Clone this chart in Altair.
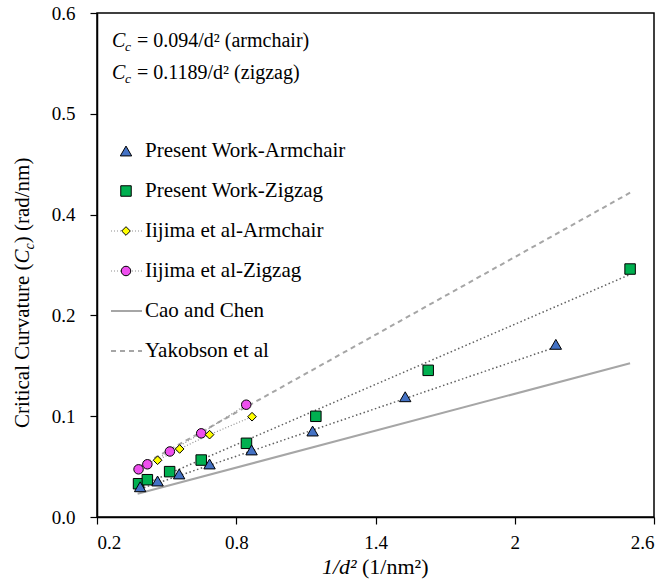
import altair as alt
import pandas as pd

# ---------------- data ----------------
pw_zig_x = [0.379, 0.417, 0.513, 0.649, 0.844, 1.143, 1.627, 2.497]
pw_zig_y = [0.033, 0.037, 0.045, 0.0565, 0.0731, 0.0999, 0.1455, 0.246]
pw_arm_x = [0.386, 0.461, 0.554, 0.685, 0.866, 1.129, 1.528, 2.177]
pw_arm_y = [0.030, 0.0357, 0.0427, 0.0526, 0.0665, 0.0853, 0.1193, 0.1713]
ij_zig_x = [0.379, 0.417, 0.514, 0.649, 0.843]
ij_zig_y = [0.0473, 0.0523, 0.065, 0.083, 0.1114]
ij_arm_x = [0.461, 0.556, 0.685, 0.868]
ij_arm_y = [0.0563, 0.0675, 0.0817, 0.0995]
fit_arm_x = [0.386, 2.153]
fit_arm_y = [0.0278, 0.1667]
fit_zig_x = [0.379, 2.497]
fit_zig_y = [0.030, 0.2406]
cao_x = [0.375, 2.497]
cao_y = [0.0231, 0.1525]
yak_x = [0.379, 2.497]
yak_y = [0.0496, 0.3217]

x_ticks = [0.2, 0.8, 1.4, 2.0, 2.6]
y_ticks = [0.0, 0.1, 0.2, 0.3, 0.4, 0.5]
y_tick_labels = ["0.0", "0.1", "0.2", "0.4", "0.5", "0.6"]

legend_names = ["Present Work-Armchair", "Present Work-Zigzag", "Iijima et al-Armchair",
                "Iijima et al-Zigzag", "Cao and Chen", "Yakobson et al"]

FONT = "Liberation Serif"
W, H = 557, 504
C_TRI = "#4472C4"
C_SQ = "#00B050"
C_DIA = "#FFFF00"
C_CIR = "#EE4FEE"
C_GREY = "#A6A6A6"
C_DOT = "#606060"

def df(xs, ys):
    return pd.DataFrame({"x": xs, "y": ys})

ylab_expr = ""
for v, lab in zip(y_ticks, y_tick_labels):
    ylab_expr += f"abs(datum.value - {v}) < 0.001 ? '{lab}' : "
ylab_expr += "''"

xsc = alt.Scale(domain=[0.2, 2.6], nice=False, zero=False)
ysc = alt.Scale(domain=[0, 0.5], nice=False, zero=False)
X = alt.X("x:Q", scale=xsc, axis=alt.Axis(
    values=x_ticks, labelExpr="datum.value == 2 ? '2' : format(datum.value, '.1f')",
    title=None, grid=False, domainColor="black", tickColor="black", tickSize=7,
    labelFont=FONT, labelFontSize=19, labelColor="black", labelPadding=9,
    domainWidth=1.5, tickWidth=1.2))
Y = alt.Y("y:Q", scale=ysc, axis=alt.Axis(
    values=y_ticks, labelExpr=ylab_expr, title=None, grid=False,
    domainColor="black", tickColor="black", tickSize=7,
    labelFont=FONT, labelFontSize=19, labelColor="black", labelPadding=15,
    domainWidth=1.5, tickWidth=1.2))

layers = []
# lines
layers.append(alt.Chart(df(cao_x, cao_y)).mark_line(color=C_GREY, strokeWidth=2).encode(x=X, y=Y))
layers.append(alt.Chart(df(yak_x, yak_y)).mark_line(color=C_GREY, strokeWidth=2, strokeDash=[5, 4]).encode(x=X, y=Y))
layers.append(alt.Chart(df(fit_zig_x, fit_zig_y)).mark_line(color=C_DOT, strokeWidth=1.5, strokeDash=[1.5, 2.5]).encode(x=X, y=Y))
layers.append(alt.Chart(df(fit_arm_x, fit_arm_y)).mark_line(color=C_DOT, strokeWidth=1.5, strokeDash=[1.5, 2.5]).encode(x=X, y=Y))
layers.append(alt.Chart(df(ij_zig_x, ij_zig_y)).mark_line(color="#909090", strokeWidth=1.2, strokeDash=[1, 2]).encode(x=X, y=Y))
layers.append(alt.Chart(df(ij_arm_x, ij_arm_y)).mark_line(color="#909090", strokeWidth=1.2, strokeDash=[1, 2]).encode(x=X, y=Y))

# points
def pmark(shape, fill, size):
    return dict(shape=shape, filled=True, fill=fill, stroke="black", strokeWidth=1,
                size=size, opacity=1, fillOpacity=1)

layers.append(alt.Chart(df(ij_zig_x, ij_zig_y)).mark_point(**pmark("circle", C_CIR, 90)).encode(x=X, y=Y))
layers.append(alt.Chart(df(ij_arm_x, ij_arm_y)).mark_point(**pmark("diamond", C_DIA, 75)).encode(x=X, y=Y))
layers.append(alt.Chart(df(pw_zig_x, pw_zig_y)).mark_point(**pmark("square", C_SQ, 110)).encode(x=X, y=Y))
layers.append(alt.Chart(df(pw_arm_x, pw_arm_y)).mark_point(**pmark("triangle-up", C_TRI, 130)).encode(x=X, y=Y))

one = pd.DataFrame({"k": [0]})

# legend (custom)
leg_sym = [("triangle-up", C_TRI, 130, None), ("square", C_SQ, 110, None),
           ("diamond", C_DIA, 75, "dot"), ("circle", C_CIR, 90, "dot"),
           (None, None, 0, "solid"), (None, None, 0, "dash")]
for i, (name, (shape, fill, size, ln)) in enumerate(zip(legend_names, leg_sym)):
    yy = 151 + 40 * i
    if ln == "dot":
        layers.append(alt.Chart(one).mark_rule(color="#909090", strokeWidth=1.2, strokeDash=[1, 2]).encode(
            x=alt.value(111 - 97), x2=alt.value(142 - 97), y=alt.value(yy - 13)))
    elif ln == "solid":
        layers.append(alt.Chart(one).mark_rule(color=C_GREY, strokeWidth=2).encode(
            x=alt.value(111 - 97), x2=alt.value(142 - 97), y=alt.value(yy - 13)))
    elif ln == "dash":
        layers.append(alt.Chart(one).mark_rule(color=C_GREY, strokeWidth=2, strokeDash=[5, 4]).encode(
            x=alt.value(111 - 97), x2=alt.value(142 - 97), y=alt.value(yy - 13)))
    if shape:
        layers.append(alt.Chart(one).mark_point(**pmark(shape, fill, size)).encode(
            x=alt.value(126 - 97), y=alt.value(yy - 13)))
    layers.append(alt.Chart(one).mark_text(align="left", baseline="middle", font=FONT, fontSize=21,
                                           color="black").encode(
        x=alt.value(145 - 97), y=alt.value(yy - 13), text=alt.value(name)))

# free text pieces: (text, x, y(baseline), size, style, angle)
pieces = [
    ("C", 112, 47, 20, "italic", 0),
    ("c", 125, 51, 13.5, "italic", 0),
    ("= 0.094/d\u00b2 (armchair)", 137, 47, 20, "normal", 0),
    ("C", 112, 79, 20, "italic", 0),
    ("c", 125, 83, 13.5, "italic", 0),
    ("= 0.1189/d\u00b2 (zigzag)", 137, 79, 20, "normal", 0),
    ("1/d\u00b2", 322, 574, 22, "italic", 0),
    ("(1/nm\u00b2)", 362, 574, 22, "normal", 0),
    ("Critical Curvature (", 29, 428, 21, "normal", 270),
    ("C", 29, 263.5, 21, "italic", 270),
    ("c", 33.5, 249.5, 14, "italic", 270),
    (") (rad/nm)", 29, 243.3, 21, "normal", 270),
]
for t, px, py, fs, st, ang in pieces:
    layers.append(alt.Chart(one).mark_text(align="left", baseline="alphabetic", font=FONT, fontSize=fs,
                                           fontStyle=st, angle=ang, color="black").encode(
        x=alt.value(px - 97), y=alt.value(py - 13), text=alt.value(t)))

chart = alt.layer(*layers).properties(
    width=W, height=H,
    autosize=alt.AutoSizeParams(type="none"),
    padding={"left": 97, "top": 13, "right": 16, "bottom": 65},
    background="white",
).configure_view(stroke="black", strokeWidth=1.5)

chart.save("out.html", embed_options={"renderer": "svg", "actions": False})
